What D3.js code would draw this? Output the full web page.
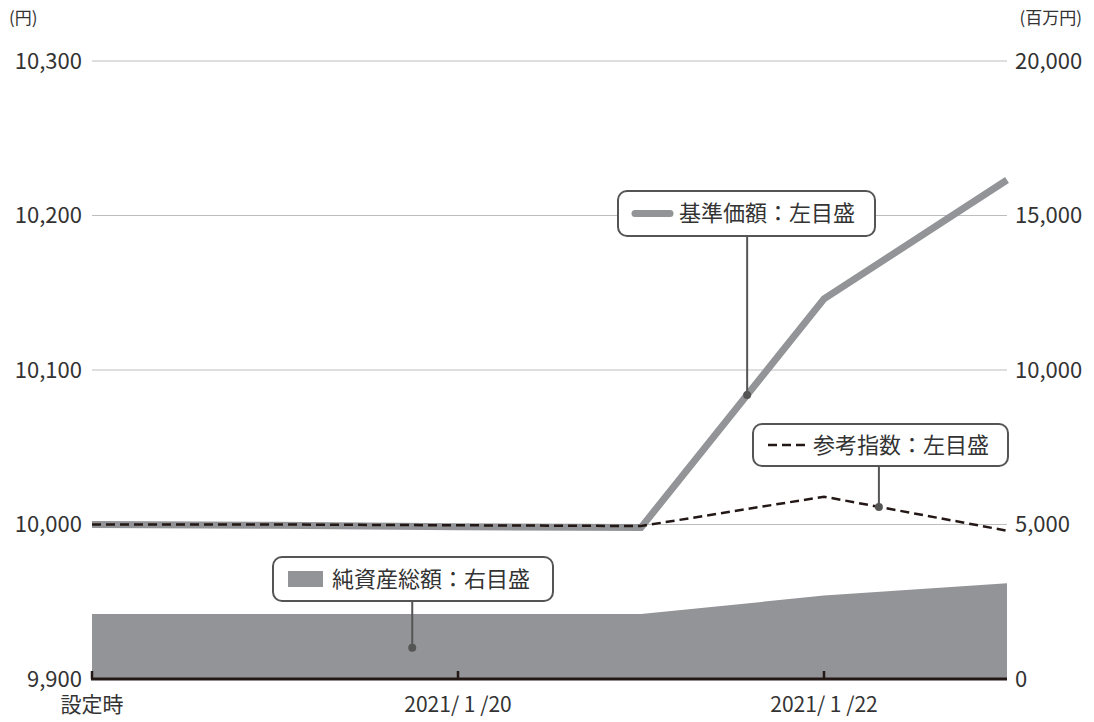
<!DOCTYPE html>
<html lang="ja">
<head>
<meta charset="UTF-8">
<title>基準価額・純資産総額の推移</title>
<script src="https://d3js.org/d3.v7.min.js"></script>
<style>
  body { margin: 0; background: #fff; }
  svg text { font-family: "Noto Sans CJK JP", "Noto Sans", sans-serif; fill: #333; }
</style>
</head>
<body>
<svg width="1094" height="722"></svg>
<script>
// data
var categories = ["設定時", "2021/1/19", "2021/1/20", "2021/1/21", "2021/1/22", "2021/1/25"];
var navPrice   = [10000, 9999.5, 9998.5, 9998, 10146, 10223];   // 基準価額 (円)
var refIndex   = [10000, 10000, 9999.5, 9999, 10018, 9996];      // 参考指数 (円)
var netAssets  = [2100, 2100, 2100, 2100, 2700, 3100];           // 純資産総額 (百万円)
var xTickIdx    = [0, 2, 4];
var xTickLabels = ["設定時", "2021/ 1 /20", "2021/ 1 /22"];
var leftTicks  = [9900, 10000, 10100, 10200, 10300];
var rightTicks = [0, 5000, 10000, 15000, 20000];

var svg = d3.select("svg");
var plotLeft = 92, plotRight = 1007, plotTop = 61, plotBottom = 679;

var x = d3.scalePoint().domain(categories).range([plotLeft, plotRight]);
var yL = d3.scaleLinear().domain([9900, 10300]).range([plotBottom, plotTop]);
var yR = d3.scaleLinear().domain([0, 20000]).range([plotBottom, plotTop]);
var fmt = d3.format(",");

// gridlines
svg.append("g").selectAll("line")
  .data(leftTicks.slice(1))
  .join("line")
    .attr("x1", plotLeft).attr("x2", plotRight)
    .attr("y1", function(d) { return yL(d); })
    .attr("y2", function(d) { return yL(d); })
    .attr("stroke", "#bdbdbd").attr("stroke-width", 1);

// left axis labels
svg.append("g").selectAll("text")
  .data(leftTicks)
  .join("text")
    .attr("x", 82).attr("y", function(d) { return yL(d); })
    .attr("dy", "0.36em")
    .attr("text-anchor", "end")
    .attr("font-size", 22)
    .text(function(d) { return fmt(d); });

// right axis labels
svg.append("g").selectAll("text")
  .data(rightTicks)
  .join("text")
    .attr("x", 1015).attr("y", function(d) { return yR(d); })
    .attr("dy", "0.36em")
    .attr("text-anchor", "start")
    .attr("font-size", 22)
    .text(function(d) { return fmt(d); });

// unit labels
svg.append("text").attr("x", 9).attr("y", 24).attr("font-size", 17).text("(円)");
svg.append("text").attr("x", 1082).attr("y", 24).attr("font-size", 17)
  .attr("text-anchor", "end").text("(百万円)");

// net assets area
var area = d3.area()
  .x(function(d, i) { return x(categories[i]); })
  .y0(yR(0))
  .y1(function(d) { return yR(d); });
svg.append("path").datum(netAssets)
  .attr("d", area)
  .attr("fill", "#939497");

// nav price line
var lineL = d3.line()
  .x(function(d, i) { return x(categories[i]); })
  .y(function(d) { return yL(d); });
svg.append("path").datum(navPrice)
  .attr("d", lineL)
  .attr("fill", "none")
  .attr("stroke", "#939497")
  .attr("stroke-width", 7);

// reference index line
svg.append("path").datum(refIndex)
  .attr("d", lineL)
  .attr("fill", "none")
  .attr("stroke", "#231815")
  .attr("stroke-width", 2.5)
  .attr("stroke-dasharray", "9,5");

// x axis
svg.append("line")
  .attr("x1", plotLeft - 1).attr("x2", plotRight)
  .attr("y1", plotBottom).attr("y2", plotBottom)
  .attr("stroke", "#231815").attr("stroke-width", 3);
svg.append("g").selectAll("line")
  .data(xTickIdx)
  .join("line")
    .attr("x1", function(i) { return x(categories[i]); })
    .attr("x2", function(i) { return x(categories[i]); })
    .attr("y1", plotBottom).attr("y2", plotBottom - 8)
    .attr("stroke", "#231815").attr("stroke-width", 2.5);
svg.append("g").selectAll("text")
  .data(xTickIdx)
  .join("text")
    .attr("x", function(i) { return x(categories[i]); })
    .attr("y", 712)
    .attr("text-anchor", "middle")
    .attr("font-size", 21)
    .text(function(i, k) { return xTickLabels[k]; });

// value of a series at a fractional index
function valueAt(series, t) {
  var i = Math.min(Math.floor(t), series.length - 2);
  var f = t - i;
  return series[i] + (series[i + 1] - series[i]) * f;
}

// callouts
function callout(opt) {
  var g = svg.append("g");
  var ax = x(categories[0]) + opt.t * x.step();
  var ay = opt.scale(valueAt(opt.series, opt.t) * (opt.depth || 1));
  g.append("line")
    .attr("x1", ax).attr("x2", ax)
    .attr("y1", opt.by + opt.bh).attr("y2", ay)
    .attr("stroke", "#555").attr("stroke-width", 2);
  g.append("circle").attr("cx", ax).attr("cy", ay).attr("r", 4).attr("fill", "#555");
  g.append("rect")
    .attr("x", opt.bx).attr("y", opt.by)
    .attr("width", opt.bw).attr("height", opt.bh)
    .attr("rx", 9)
    .attr("fill", "#fff").attr("stroke", "#555").attr("stroke-width", 2);
  var cy = opt.by + opt.bh / 2;
  if (opt.swatch === "line") {
    g.append("line")
      .attr("x1", opt.bx + 17).attr("x2", opt.bx + 52)
      .attr("y1", cy).attr("y2", cy)
      .attr("stroke", "#939497").attr("stroke-width", 7)
      .attr("stroke-linecap", "round");
  } else if (opt.swatch === "dash") {
    g.append("line")
      .attr("x1", opt.bx + 15).attr("x2", opt.bx + 52)
      .attr("y1", cy).attr("y2", cy)
      .attr("stroke", "#231815").attr("stroke-width", 2.5)
      .attr("stroke-dasharray", "9,5");
  } else {
    g.append("rect")
      .attr("x", opt.bx + 15).attr("y", cy - 8)
      .attr("width", 35).attr("height", 16)
      .attr("fill", "#939497");
  }
  g.append("text")
    .attr("x", opt.bx + opt.tx).attr("y", cy)
    .attr("dy", "0.36em")
    .attr("font-size", 22)
    .text(opt.label);
}

callout({ label: "基準価額：左目盛", series: navPrice, scale: yL, t: 3.58,
          bx: 618, by: 191, bw: 257, bh: 45, tx: 61, swatch: "line" });
callout({ label: "参考指数：左目盛", series: refIndex, scale: yL, t: 4.3,
          bx: 753, by: 424, bw: 255, bh: 42, tx: 60, swatch: "dash" });
callout({ label: "純資産総額：右目盛", series: netAssets, scale: yR, t: 1.75, depth: 0.48,
          bx: 273, by: 557, bw: 280, bh: 44, tx: 59, swatch: "rect" });
</script>
</body>
</html>
